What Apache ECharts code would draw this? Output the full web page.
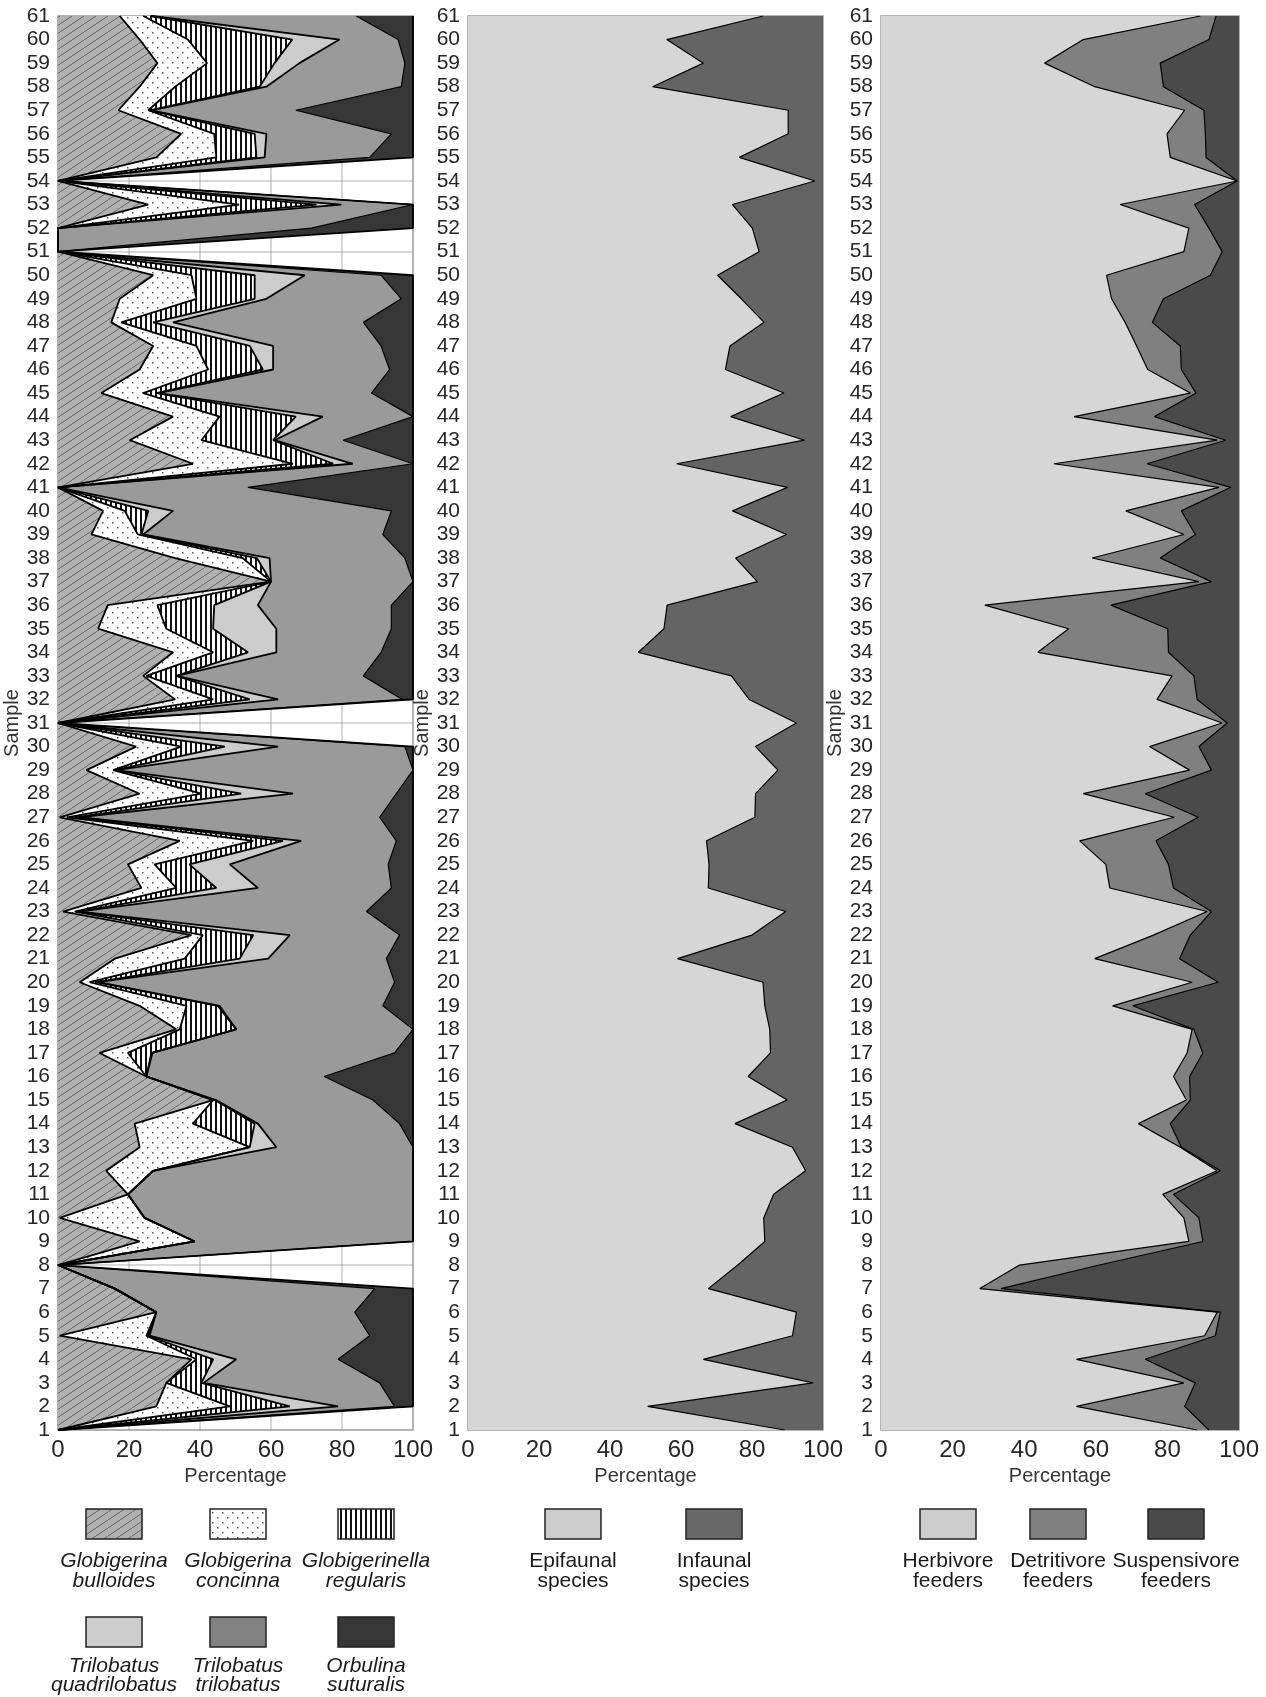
<!DOCTYPE html>
<html><head><meta charset="utf-8">
<script src="https://cdn.jsdelivr.net/npm/echarts@6/dist/echarts.min.js"></script>
<style>html,body{margin:0;padding:0;background:#fff}#c{width:1266px;height:1697px}</style>
</head><body><div id="c"></div>
<script>
const samples = ['1','2','3','4','5','6','7','8','9','10','11','12','13','14','15','16','17','18','19','20','21','22','23','24','25','26','27','28','29','30','31','32','33','34','35','36','37','38','39','40','41','42','43','44','45','46','47','48','49','50','51','52','53','54','55','56','57','58','59','60','61'];
const xTicks = [0, 20, 40, 60, 80, 100];

// Panel 1 – planktonic foraminifera (%)
const bulloides = [0,27.7,30.5,37.6,0.5,27.7,16,0,23,0.5,19.7,13.6,23,21.6,43.7,24.9,11.7,33.3,23,6.1,16,37.6,1.4,23.5,19.7,34.3,0.5,23,8,22,0,33,24,32.4,11.3,14,60,33,9.4,12.7,0,38,20.2,32.4,12.2,23,26.8,15,17.4,26.8,0,0,25.4,0,27.7,34.7,17,23,28,23,17.4];
const concinna = [0,20.7,0,1.4,24.4,0,0,0,15.5,23.9,0,13.2,31,16.4,0,0,8,1,13.2,2.8,19.7,3.2,3.3,9.8,7.5,20.7,2,17.4,7.5,12.7,0,10.7,0.9,11.3,19.2,14,0,19,13.1,6.1,0,28.2,20.2,13.1,11.8,19.3,12.2,2.8,21.6,10.8,0,0,25.6,0,16.9,9.3,8.4,10,14,13.6,6.6];
const regularis = [0,16.9,9.9,4.7,0.4,0,0,0,0,0,0,0,0,17.4,0.5,0,6.6,15.9,8.8,1.9,15.5,14.2,0.9,11.3,9.8,8.4,2.5,11.2,0.5,12.3,0,10.3,8.4,9.8,13.2,16,0,4,1,6.6,0,11.3,20.2,21.5,3.7,15.4,15,9,16.4,17.8,0,0,21.8,0,11.3,11.4,0.4,23.8,19,29.4,2];
const quadrilobatus = [0,13.6,0.6,6.5,0.5,0,0,0,0,0,0,0,7.5,0.9,0.3,0,0.3,0,0.5,0.5,8,10.3,0.4,11.7,11.4,5.1,1,14.6,0.4,15,0,8,0.2,8,17.8,12.3,0,3.6,0.5,7,0,5.5,0.4,7.6,0.5,2.9,6.6,5.6,3.3,14.1,0,0,7,0,2.3,3.3,0.5,1.9,7,13.3,0.5];
const trilobatus = [0,15.9,49.6,28.7,62,55.9,73.2,0,61.5,75.6,80.3,73.2,38.5,39.9,44.2,50.1,68.2,49.8,46,83.5,33.3,30.9,80.9,37.6,44.6,26.8,84.6,29.1,83.6,35.7,0,35,52.5,29.5,32.4,37.6,40,38.1,67.5,61.5,53.5,17,19.3,25.4,60.1,32.8,30.4,53.6,38,21.5,0,71.4,20.2,0,29.6,35.2,40.7,38,29.7,16.5,57.5];
const suturalis = [0,5.2,9.4,21.1,12.2,16.4,10.8,0,0,0,0,0,0,3.8,11.3,25,5.2,0,8.5,5.2,7.5,3.8,13.1,6.1,7,4.7,9.4,4.7,0,2.3,0,3,14,9,6.1,6.1,0,2.3,8.5,6.1,46.5,0,19.7,0,11.7,6.6,9,14,3.3,9,0,28.6,0,0,12.2,6.1,33,3.3,2.3,4.2,16];

// Panel 2 – life habit (%)
const epifaunal = [89.2,50.6,97.2,66.3,91.4,92.5,67.7,76,83.6,83.3,86.1,95.1,91.4,75.2,89.9,78.9,85.2,85,83.6,83.1,59,80,89.5,67.7,67.9,67.2,80.8,81,87.3,81,92.5,79.2,74.2,48,55.2,56.1,81.5,75.4,89.7,74.5,90,58.8,94.8,74,89,72.5,73.8,83.4,77,70.3,82,80.1,74.5,97.7,76.4,90.2,90.2,52,66.3,56,83.1];
const infaunal = [10.8,49.4,2.8,33.7,8.6,7.5,32.3,24,16.4,16.7,13.9,4.9,8.6,24.8,10.1,21.1,14.8,15,16.4,16.9,41,20,10.5,32.3,32.1,32.8,19.2,19,12.7,19,7.5,20.8,25.8,52,44.8,43.9,18.5,24.6,10.3,25.5,10,41.2,5.2,26,11,27.5,26.2,16.6,23,29.7,18,19.9,25.5,2.3,23.6,9.8,9.8,48,33.7,44,16.9];

// Panel 3 – feeding strategy (%)
const herbivore = [88.3,54.6,84.6,54.6,90.4,93.9,27.6,38.7,86,84.6,78.7,93.9,83.6,71.9,85.3,81.7,85.5,86.9,64.7,86.9,59.7,76.1,91.1,63.9,62.8,55.5,81.9,56.5,86.2,75,95.3,77.1,81.3,43.8,52.4,29,88.8,59,84.6,68.4,94.4,48.3,93.9,53.9,86.4,74.5,71.4,68.2,64.4,63,84.6,86,66.8,99.5,80.8,79.9,84.8,59.7,45.7,56.5,89.2];
const detritivore = [3.3,30.2,3.2,19.2,3,0.9,5.9,22.3,3.9,4.2,3,0.9,0.3,8.9,1.1,4.5,4.4,0.5,5.6,7.3,23.7,10.3,1.2,17.8,17.5,21.3,6.7,17.3,6.1,13.8,1.4,11.2,6.1,36.5,27.7,35.2,3.5,19,3.2,15.5,3.3,26,2.4,22.5,1.6,9.4,12.2,7.6,14.5,29,10.7,5.6,20.8,0,10,10.7,5.4,19.2,32.3,35.1,4.4];
const suspensivore = [8.4,15.2,12.2,26.2,6.6,5.2,66.5,39,10.1,11.2,18.3,5.2,16.1,19.2,13.6,13.8,10.1,12.6,29.7,5.8,16.6,13.6,7.7,18.3,19.7,23.2,11.4,26.2,7.7,11.2,3.3,11.7,12.6,19.7,19.9,35.8,7.7,22,12.2,16.1,2.3,25.7,3.7,23.6,12,16.1,16.4,24.2,21.1,8,4.7,8.4,12.4,0.5,9.2,9.4,9.8,21.1,22,8.4,6.4];

// ---- fill patterns ----
function makeCanvas(w, h, draw) {
  const c = document.createElement('canvas'); c.width = w; c.height = h;
  draw(c.getContext('2d'), w, h); return c;
}
const hatchCanvas = makeCanvas(12, 8, (g, w, h) => {
  g.fillStyle = '#b0b0b0'; g.fillRect(0, 0, w, h);
  g.strokeStyle = '#686868'; g.lineWidth = 1;
  g.beginPath(); g.moveTo(-w, 2 * h); g.lineTo(2 * w, -h); g.stroke();
});
const dotCanvas = makeCanvas(10, 10, (g, w, h) => {
  g.fillStyle = '#ffffff'; g.fillRect(0, 0, w, h);
  g.fillStyle = '#555555';
  g.fillRect(2, 2, 1.5, 1.5); g.fillRect(7, 7, 1.5, 1.5);
});
const stripeCanvas = makeCanvas(5, 5, (g, w, h) => {
  g.fillStyle = '#ffffff'; g.fillRect(0, 0, w, h);
  g.fillStyle = '#111111'; g.fillRect(0, 0, 2, h);
});
const pat = (cv) => ({ image: cv, repeat: 'repeat' });

const FONT = '"Liberation Sans", Arial, sans-serif';
const gridLine = 'rgba(140,140,140,0.35)';

const grids = [
  { left: 58, width: 355, top: 16, height: 1414 },
  { left: 468, width: 355, top: 16, height: 1414 },
  { left: 881, width: 358, top: 16, height: 1414 }
].map(g => Object.assign(g, { show: true, borderColor: '#c8c8c8', borderWidth: 2, backgroundColor: 'transparent' }));

const xAxes = [0, 1, 2].map(i => ({
  type: 'value', gridIndex: i, min: xTicks[0], max: xTicks[xTicks.length - 1], interval: 20, z: 3,
  name: 'Percentage', nameLocation: 'middle', nameGap: 34,
  nameTextStyle: { fontSize: 20, color: '#333', fontFamily: FONT },
  axisLabel: { fontSize: 24, color: '#262626', fontFamily: FONT, margin: 8 },
  axisLine: { show: false }, axisTick: { show: false },
  splitLine: { show: true, lineStyle: { color: gridLine, width: 2 } }
}));
const yAxes = [0, 1, 2].map(i => ({
  type: 'category', gridIndex: i, data: samples, boundaryGap: false, z: 3,
  name: 'Sample', nameLocation: 'middle', nameGap: 34, nameRotate: 90,
  nameTextStyle: { fontSize: 20, color: '#333', fontFamily: FONT },
  axisLabel: { fontSize: 21, color: '#262626', fontFamily: FONT, interval: 0, margin: 8 },
  axisLine: { show: false }, axisTick: { show: false },
  splitLine: { show: true, interval: 0, lineStyle: { color: gridLine, width: 2 } }
}));

function area(name, data, idx, stack, fill, lw) {
  return {
    type: 'line', name, data, xAxisIndex: idx, yAxisIndex: idx, stack,
    showSymbol: false, symbol: 'none', smooth: false,
    lineStyle: { color: '#000', width: lw },
    areaStyle: { color: fill, opacity: 1 },
    emphasis: { disabled: true }, animation: false
  };
}

const series = [
  area('Globigerina bulloides', bulloides, 0, 'p1', pat(hatchCanvas), 1.8),
  area('Globigerina concinna', concinna, 0, 'p1', pat(dotCanvas), 1.8),
  area('Globigerinella regularis', regularis, 0, 'p1', pat(stripeCanvas), 1.8),
  area('Trilobatus quadrilobatus', quadrilobatus, 0, 'p1', '#cccccc', 1.8),
  area('Trilobatus trilobatus', trilobatus, 0, 'p1', '#9a9a9a', 1.2),
  area('Orbulina suturalis', suturalis, 0, 'p1', '#363636', 1.8),
  area('Epifaunal species', epifaunal, 1, 'p2', '#d6d6d6', 1.2),
  area('Infaunal species', infaunal, 1, 'p2', '#646464', 0),
  area('Herbivore feeders', herbivore, 2, 'p3', '#d6d6d6', 1.2),
  area('Detritivore feeders', detritivore, 2, 'p3', '#808080', 1.2),
  area('Suspensivore feeders', suspensivore, 2, 'p3', '#4a4a4a', 0)
];

// ---- legend (drawn as graphics) ----
const legendItems = [
  { cx: 114, top: 1509, row: 0, fill: pat(hatchCanvas), l1: 'Globigerina', l2: 'bulloides', it: true },
  { cx: 238, top: 1509, row: 0, fill: pat(dotCanvas), l1: 'Globigerina', l2: 'concinna', it: true },
  { cx: 366, top: 1509, row: 0, fill: pat(stripeCanvas), l1: 'Globigerinella', l2: 'regularis', it: true },
  { cx: 114, top: 1617, row: 1, fill: '#cccccc', l1: 'Trilobatus', l2: 'quadrilobatus', it: true },
  { cx: 238, top: 1617, row: 1, fill: '#828282', l1: 'Trilobatus', l2: 'trilobatus', it: true },
  { cx: 366, top: 1617, row: 1, fill: '#363636', l1: 'Orbulina', l2: 'suturalis', it: true },
  { cx: 573, top: 1509, row: 0, fill: '#cccccc', l1: 'Epifaunal', l2: 'species', it: false },
  { cx: 714, top: 1509, row: 0, fill: '#686868', l1: 'Infaunal', l2: 'species', it: false },
  { cx: 948, top: 1509, row: 0, fill: '#cccccc', l1: 'Herbivore', l2: 'feeders', it: false },
  { cx: 1058, top: 1509, row: 0, fill: '#808080', l1: 'Detritivore', l2: 'feeders', it: false },
  { cx: 1176, top: 1509, row: 0, fill: '#4a4a4a', l1: 'Suspensivore', l2: 'feeders', it: false }
];
const textY = [[1561, 1581], [1666, 1685]];
const graphics = [];
legendItems.forEach(it => {
  graphics.push({ type: 'rect', shape: { x: it.cx - 28, y: it.top, width: 56, height: 30 },
    style: { fill: it.fill, stroke: '#222', lineWidth: 1.5 }, z: 10 });
  const font = (it.it ? 'italic ' : '') + '21px ' + FONT;
  graphics.push({ type: 'text', x: it.cx, y: textY[it.row][0],
    style: { text: it.l1, font, fill: '#1a1a1a', textAlign: 'center', textVerticalAlign: 'middle' }, z: 10 });
  graphics.push({ type: 'text', x: it.cx, y: textY[it.row][1],
    style: { text: it.l2, font, fill: '#1a1a1a', textAlign: 'center', textVerticalAlign: 'middle' }, z: 10 });
});

const chart = echarts.init(document.getElementById('c'), null, { renderer: 'canvas' });
chart.setOption({
  animation: false,
  backgroundColor: '#ffffff',
  textStyle: { fontFamily: FONT },
  grid: grids, xAxis: xAxes, yAxis: yAxes, series, graphic: graphics
});
</script></body></html>
